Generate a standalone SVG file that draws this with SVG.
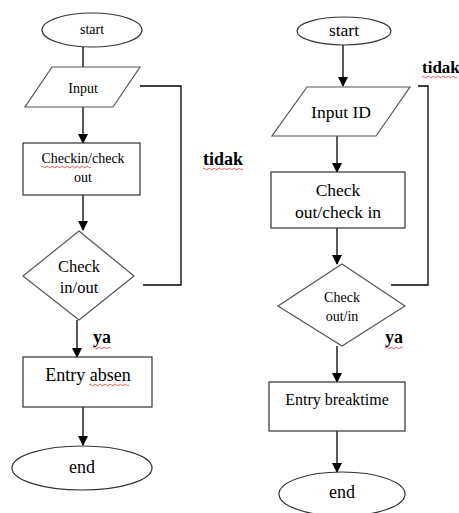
<svg xmlns="http://www.w3.org/2000/svg" width="459" height="513" viewBox="0 0 459 513">
<style>
.shape{fill:#fff;stroke:#333;stroke-width:1.2}
.dia{fill:#fff;stroke:#555;stroke-width:1.2}
.con{fill:none;stroke:#000;stroke-width:1.3}
text{font-family:'Liberation Serif','DejaVu Serif',serif;fill:#000;text-anchor:middle}
.b{font-weight:bold;text-anchor:start}
.sq{fill:none;stroke:#e03030;stroke-width:0.8}
</style>
<defs>
<marker id="ah" markerWidth="10" markerHeight="10" refX="9" refY="5" orient="auto" markerUnits="userSpaceOnUse">
<path d="M0,0 L10,5 L0,10 z" fill="#000"/>
</marker>
</defs>
<rect width="459" height="513" fill="#fff"/>
<g id="connectors">
<line class="con" x1="83" y1="47" x2="83" y2="67"/>
<line class="con" x1="83" y1="107" x2="83" y2="143" marker-end="url(#ah)"/>
<line class="con" x1="83" y1="195" x2="83" y2="230" marker-end="url(#ah)"/>
<line class="con" x1="77" y1="320" x2="77" y2="357" marker-end="url(#ah)"/>
<line class="con" x1="83" y1="407" x2="83" y2="445" marker-end="url(#ah)"/>
<polyline class="con" points="143,285 181,285 181,86 140,86"/>
<line class="con" x1="343" y1="45" x2="343" y2="86" marker-end="url(#ah)"/>
<line class="con" x1="337" y1="136" x2="337" y2="172" marker-end="url(#ah)"/>
<line class="con" x1="337" y1="228" x2="337" y2="264" marker-end="url(#ah)"/>
<line class="con" x1="337" y1="346" x2="337" y2="382" marker-end="url(#ah)"/>
<line class="con" x1="337" y1="431" x2="337" y2="472" marker-end="url(#ah)"/>
<polyline class="con" points="391,285 428,285 428,86 418,86"/>
</g>
<g id="L_start"><ellipse class="shape" cx="92" cy="30" rx="50" ry="17"/><text x="92" y="34" font-size="14">start</text></g>
<g id="L_input"><polygon class="dia" points="52,67 140,67 113,107 25,107"/><text x="83" y="93" font-size="14">Input</text></g>
<g id="L_check"><rect class="shape" x="23" y="143" width="117" height="52"/><text x="83" y="163" font-size="14">Checkin/check</text><text x="83" y="182" font-size="14">out</text><path class="sq" d="M41,167 q1.25,-1.5 2.5,0 t2.5,0 t2.5,0 t2.5,0 t2.5,0 t2.5,0 t2.5,0 t2.5,0 t2.5,0 t2.5,0 t2.5,0 t2.5,0 t2.5,0 t2.5,0 t2.5,0 t2.5,0 t2.5,0 t2.5,0 t2.5,0 t2.5,0"/></g>
<g id="L_decision"><polygon class="dia" points="79,231 134,276 79,320 23,276"/><text x="79" y="272" font-size="16.5">Check</text><text x="79" y="293" font-size="16.5">in/out</text></g>
<g id="L_ya"><text class="b" x="93" y="343" font-size="18">ya</text><path class="sq" d="M93,348 q1.25,-1.5 2.5,0 t2.5,0 t2.5,0 t2.5,0 t2.5,0 t2.5,0 t2.5,0"/></g>
<g id="L_tidak"><text class="b" x="203" y="165" font-size="18">tidak</text><path class="sq" d="M203,169 q1.25,-1.5 2.5,0 t2.5,0 t2.5,0 t2.5,0 t2.5,0 t2.5,0 t2.5,0 t2.5,0 t2.5,0 t2.5,0 t2.5,0 t2.5,0 t2.5,0 t2.5,0 t2.5,0 t2.5,0"/></g>
<g id="L_entry"><rect class="shape" x="23" y="357" width="129" height="50"/><text x="88" y="381" font-size="18">Entry absen</text><path class="sq" d="M89,385 q1.25,-1.5 2.5,0 t2.5,0 t2.5,0 t2.5,0 t2.5,0 t2.5,0 t2.5,0 t2.5,0 t2.5,0 t2.5,0 t2.5,0 t2.5,0 t2.5,0 t2.5,0 t2.5,0 t2.5,0"/></g>
<g id="L_end"><ellipse class="shape" cx="82" cy="468" rx="70" ry="22"/><text x="82" y="473" font-size="18">end</text></g>
<g id="R_start"><ellipse class="shape" cx="344" cy="31" rx="47" ry="14"/><text x="344" y="36" font-size="17.5">start</text></g>
<g id="R_input"><polygon class="dia" points="307,87 410,87 376,136 272,136" /><text x="341" y="118" font-size="17.5">Input ID</text></g>
<g id="R_check"><rect class="shape" x="271" y="172" width="134" height="56"/><text x="338" y="196" font-size="17.5">Check</text><text x="338" y="218" font-size="17.5">out/check in</text></g>
<g id="R_decision"><polygon class="dia" points="342,264 405,306 342,346 278,306"/><text x="342" y="302" font-size="14">Check</text><text x="342" y="321" font-size="14">out/in</text></g>
<g id="R_ya"><text class="b" x="385" y="343" font-size="18">ya</text><path class="sq" d="M385,348 q1.25,-1.5 2.5,0 t2.5,0 t2.5,0 t2.5,0 t2.5,0 t2.5,0 t2.5,0"/></g>
<g id="R_tidak"><text class="b" x="422" y="73" font-size="17">tidak</text><path class="sq" d="M422,77 q1.25,-1.5 2.5,0 t2.5,0 t2.5,0 t2.5,0 t2.5,0 t2.5,0 t2.5,0 t2.5,0 t2.5,0 t2.5,0 t2.5,0 t2.5,0 t2.5,0 t2.5,0"/></g>
<g id="R_entry"><rect class="shape" x="269" y="382" width="136" height="49"/><text x="337" y="405" font-size="16">Entry breaktime</text></g>
<g id="R_end"><ellipse class="shape" cx="342" cy="494" rx="63" ry="22"/><text x="342" y="498" font-size="18">end</text></g>
</svg>
